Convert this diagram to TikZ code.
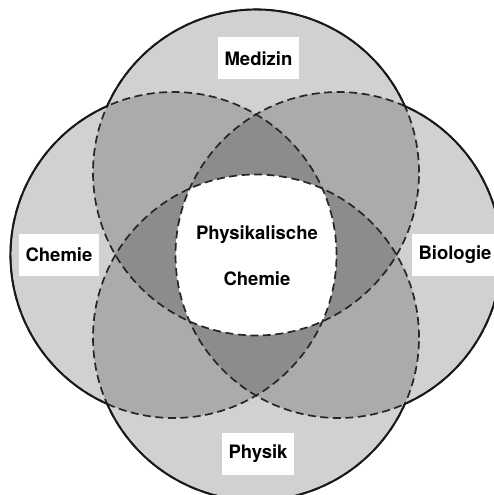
\documentclass[tikz,border=0pt]{standalone}
\usepackage{fontspec}
\setmainfont{TeX Gyre Heros}
\begin{document}
\begin{tikzpicture}[x=1pt,y=1pt,
  lab/.style={fill=white, font=\fontsize{18.5}{22}\selectfont\bfseries, inner xsep=7pt, minimum height=42pt},
  centertext/.style={font=\fontsize{18.5}{22}\selectfont\bfseries, align=center},
  outline/.style={line width=2pt, line cap=round, draw=black!90},
  innerline/.style={line width=1.7pt, draw=black!85, dash pattern=on 8pt off 4.5pt},
  shade/.style={fill=black, fill opacity=0.18}]
\useasboundingbox (-256,-240) rectangle (238,255);
\def\R{163}
\coordinate (cM) at (0,82.5);
\coordinate (cP) at (0,-82.5);
\coordinate (cC) at (-82.5,0);
\coordinate (cB) at (82.5,0);
\begin{scope}
  \clip (-256,-240) rectangle (238,255);
  % shaded discs
  \fill[shade] (cM) circle (\R);
  \fill[shade] (cP) circle (\R);
  \fill[shade] (cC) circle (\R);
  \fill[shade] (cB) circle (\R);
  % white common intersection
  \begin{scope}
    \clip (cM) circle (\R);
    \clip (cP) circle (\R);
    \clip (cC) circle (\R);
    \fill[white] (cB) circle (\R);
  \end{scope}
  % dashed inner boundaries
  \draw[innerline] (cM) circle (\R);
  \draw[innerline] (cP) circle (\R);
  \draw[innerline] (cC) circle (\R);
  \draw[innerline] (cB) circle (\R);
  % solid outer boundaries
  \draw[outline] (cM) ++(24:\R) arc[start angle=24, end angle=156, radius=\R];
  \draw[outline] (cC) ++(114:\R) arc[start angle=114, end angle=246, radius=\R];
  \draw[outline] (cP) ++(204:\R) arc[start angle=204, end angle=336, radius=\R];
  \draw[outline] (cB) ++(-66:\R) arc[start angle=-66, end angle=66, radius=\R];
\end{scope}
% labels
\node[lab] (med) at (2.5,196.5) {Medizin};
\node[lab] (phy) at (2,-199) {Physik};
\node[lab] (che) at (-197,0) {Chemie};
\node[lab] (bio) at (199,0) {Biologie};
\node[centertext] (pc) at (1,-1) {Physikalische\\[24pt]Chemie};
\end{tikzpicture}
\end{document}
